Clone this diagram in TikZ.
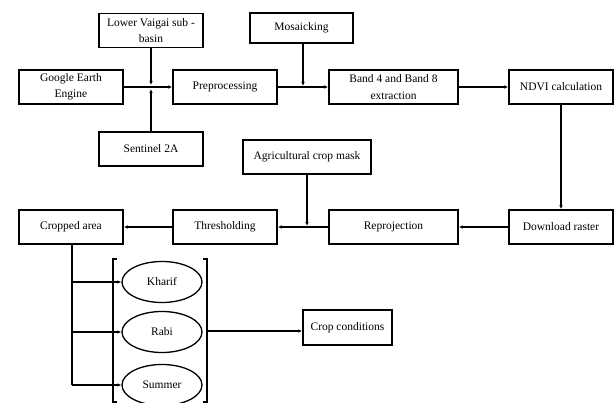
\documentclass[tikz,border=0pt]{standalone}
\usepackage{fontspec}
\setmainfont{Liberation Serif}
\usetikzlibrary{shapes.geometric,arrows.meta}
\begin{document}
\begin{tikzpicture}[x=1pt,y=-1pt,
  box/.style={draw, line width=1.6pt, minimum height=34pt, inner sep=1pt, align=center,
    font=\fontsize{11.5}{16.5}\selectfont},
  oval/.style={draw, ellipse, line width=1.3pt, minimum width=80pt, minimum height=41pt, inner sep=0pt,
    font=\fontsize{11.5}{16.5}\selectfont},
  conn/.style={line width=1.4pt},
  arr/.style={conn, -{Latex[length=4pt,width=3.5pt]}}]
\useasboundingbox (0,0) rectangle (614,403);
\node[box, minimum width=104pt] (lower) at (151,30.5) {Lower Vaigai sub -\\basin};
\node[box, minimum width=104pt] (gee) at (71,87) {Google Earth\\Engine};
\node[box, minimum width=104pt] (prep) at (225,87) {Preprocessing};
\node[box, minimum width=104pt] (sent) at (151,149) {Sentinel 2A};
\node[box, minimum width=103pt, minimum height=30pt] (mosaic) at (301.5,28) {Mosaicking};
\node[box, minimum width=129pt] (band) at (393.5,87) {Band 4 and Band 8\\extraction};
\node[box, minimum width=104pt] (ndvi) at (561,87) {NDVI calculation};
\node[box, minimum width=128pt] (agri) at (307,157) {Agricultural crop mask};
\node[box, minimum width=104pt] (crop) at (71,227) {Cropped area};
\node[box, minimum width=104pt] (thresh) at (225,227) {Thresholding};
\node[box, minimum width=129pt] (reproj) at (393.5,227) {Reprojection};
\node[box, minimum width=104pt] (down) at (561,227) {Download raster};
\node[oval] (kharif) at (162,282) {Kharif};
\node[oval] (rabi) at (162,332) {Rabi};
\node[oval] (summer) at (162,385) {Summer};
\node[box, minimum width=89pt, minimum height=35pt] (cond) at (347.5,327.5) {Crop conditions};
% junctions
\coordinate (j1a) at (151,85);
\coordinate (j1b) at (151,89);
\coordinate (j2) at (303,86);
\coordinate (j3) at (307,226);
\coordinate (jb) at (72,385);
\coordinate (jr) at (207,331);
% top row
\draw[arr] (gee) -- (prep);
\draw[arr] (lower) -- (j1a);
\draw[arr] (sent) -- (j1b);
\draw[arr] (prep) -- (band);
\draw[arr] (mosaic.south -| j2) -- (j2);
\draw[arr] (band) -- (ndvi);
\draw[arr] (ndvi) -- (down);
% bottom row
\draw[arr] (down) -- (reproj);
\draw[arr] (reproj) -- (thresh);
\draw[arr] (agri.south -| j3) -- (j3);
\draw[arr] (thresh) -- (crop);
% branches
\draw[conn] (crop.south -| jb) -- (jb);
\draw[arr] (kharif.west -| jb) -- (kharif.west);
\draw[arr] (rabi.west -| jb) -- (rabi.west);
\draw[arr] (summer.west -| jb) -- (summer.west);
% brackets
\draw[line width=1.3pt] (117,259) -- (113,259) -- (113,402) -- (117,402);
\draw[line width=1.3pt] (203,259) -- (207,259) -- (207,402) -- (203,402);
\draw[arr] (jr) -- (cond.west |- jr);
\end{tikzpicture}
\end{document}
